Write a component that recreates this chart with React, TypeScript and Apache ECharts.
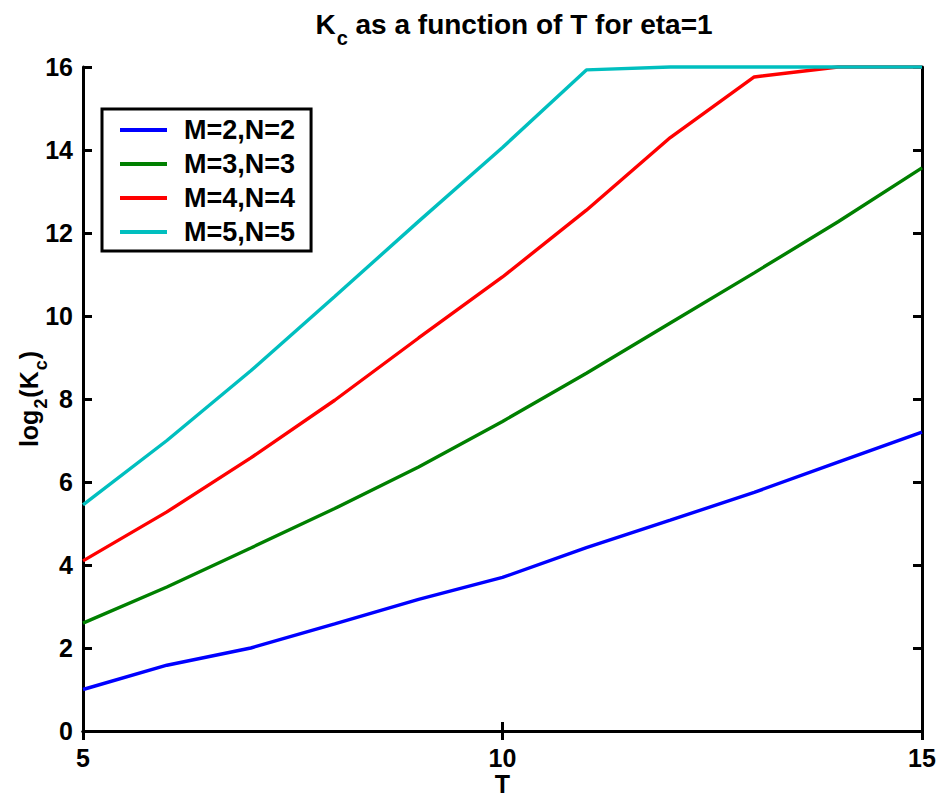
import React, { useEffect, useRef } from "react";
import * as echarts from "echarts";

const T = [5, 6, 7, 8, 9, 10, 11, 12, 13, 14, 15];
const seriesNames = ["M=2,N=2", "M=3,N=3", "M=4,N=4", "M=5,N=5"];
const m2 = [1.0, 1.585, 2.0, 2.58, 3.17, 3.7, 4.42, 5.08, 5.75, 6.48, 7.2];
const m3 = [2.6, 3.47, 4.41, 5.36, 6.36, 7.46, 8.62, 9.83, 11.04, 12.27, 13.57];
const m4 = [4.1, 5.28, 6.58, 7.97, 9.47, 10.94, 12.55, 14.3, 15.76, 16, 16];
const m5 = [5.45, 7.0, 8.68, 10.47, 12.28, 14.06, 15.93, 16, 16, 16, 16];
const colors = ["#0000ff", "#008000", "#ff0000", "#00bfbf"];

const FONT = "Liberation Sans, Arial, Helvetica, sans-serif";

export default function App() {
  const ref = useRef<HTMLDivElement>(null);
  useEffect(() => {
    if (!ref.current) return;
    const chart = echarts.init(ref.current, undefined, { renderer: "svg" });
    const allData = [m2, m3, m4, m5];
    const axisLine = { show: true, lineStyle: { color: "#000", width: 3 } };
    const axisTick = { show: true, inside: true, length: 9, lineStyle: { color: "#000", width: 3 } };
    const labelStyle = { color: "#000", fontSize: 25, fontWeight: "bold" as const, fontFamily: FONT };
    chart.setOption({
      animation: false,
      backgroundColor: "#fff",
      title: {
        text: "{k|K}{s|c}{k| as a function of T for eta=1}",
        left: 509,
        top: 5,
        textAlign: "center",
        textStyle: {
          rich: {
            k: { fontSize: 28, fontWeight: "bold", fontFamily: FONT, color: "#000", lineHeight: 32, verticalAlign: "top" },
            s: { fontSize: 20, fontWeight: "bold", fontFamily: FONT, color: "#000", lineHeight: 32, padding: [24, 0, 0, 1] },
          },
        },
      },
      legend: {
        show: true,
        orient: "vertical",
        left: 102,
        top: 109,
        padding: [4, 16, 2, 18],
        itemGap: 0,
        itemWidth: 47,
        itemHeight: 4,
        icon: "rect",
        borderColor: "#000",
        borderWidth: 3,
        borderRadius: 0,
        backgroundColor: "#fff",
        data: seriesNames,
        textStyle: {
          fontSize: 27,
          fontWeight: "bold",
          fontFamily: FONT,
          color: "#000",
          lineHeight: 34,
          padding: [0, 0, 0, 12],
        },
      },
      grid: { left: 83, right: 23, top: 67, bottom: 67, containLabel: false, outerBoundsMode: "none" },
      xAxis: [
        {
          type: "value",
          min: 5,
          max: 15,
          interval: 5,
          position: "bottom",
          axisLine,
          axisTick,
          splitLine: { show: false },
          axisLabel: { ...labelStyle, margin: 14, showMinLabel: true, showMaxLabel: true },
          name: "T",
          nameLocation: "middle",
          nameGap: 40,
          nameMoveOverlap: false,
          nameTextStyle: { ...labelStyle },
        },
        {
          type: "value",
          min: 5,
          max: 15,
          interval: 5,
          position: "top",
          axisLine,
          axisTick,
          splitLine: { show: false },
          axisLabel: { show: false },
        },
      ],
      yAxis: [
        {
          type: "value",
          min: 0,
          max: 16,
          interval: 2,
          position: "left",
          axisLine,
          axisTick,
          splitLine: { show: false },
          axisLabel: { ...labelStyle, margin: 10 },
          name: "{k|log}{s|2}{k|(K}{s|c}{k|)}",
          nameLocation: "middle",
          nameGap: 37,
          nameMoveOverlap: false,
          nameRotate: 90,
          nameTextStyle: {
            rich: {
              k: { fontSize: 25, fontWeight: "bold", fontFamily: FONT, color: "#000", lineHeight: 30, verticalAlign: "top" },
              s: { fontSize: 18, fontWeight: "bold", fontFamily: FONT, color: "#000", lineHeight: 30, padding: [20, 1, 0, 1] },
            },
          },
        },
        {
          type: "value",
          min: 0,
          max: 16,
          interval: 2,
          position: "right",
          axisLine,
          axisTick,
          splitLine: { show: false },
          axisLabel: { show: false },
        },
      ],
      series: allData.map((d, i) => ({
        name: seriesNames[i],
        type: "line",
        data: d.map((v, j) => [T[j], v]),
        symbol: "none",
        clip: false,
        lineStyle: { color: colors[i], width: 3.4 },
        itemStyle: { color: colors[i] },
        z: 3,
      })),
    });
    return () => chart.dispose();
  }, []);
  return <div ref={ref} style={{ width: 945, height: 798, position: "absolute", left: 0, top: 0 }} />;
}
